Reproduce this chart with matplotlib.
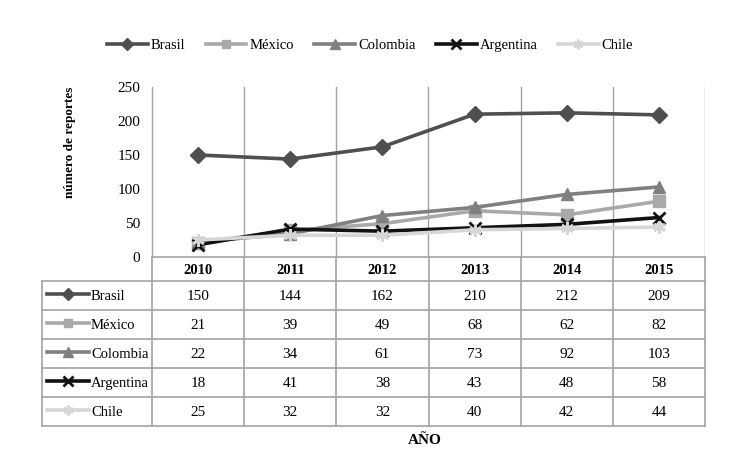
import matplotlib.pyplot as plt
from matplotlib.lines import Line2D

plt.rcParams['font.family'] = ['Liberation Serif', 'DejaVu Serif']

# datos
anios = ['2010', '2011', '2012', '2013', '2014', '2015']
paises = ['Brasil', 'México', 'Colombia', 'Argentina', 'Chile']
brasil = [150, 144, 162, 210, 212, 209]
mexico = [21, 39, 49, 68, 62, 82]
colombia = [22, 34, 61, 73, 92, 103]
argentina = [18, 41, 38, 43, 48, 58]
chile = [25, 32, 32, 40, 42, 44]
series = [brasil, mexico, colombia, argentina, chile]
yticks = [0, 50, 100, 150, 200, 250]

# estilos
colores = ['#4f4f4f', '#a9a9a9', '#808080', '#111111', '#d6d6d6']
marcadores = ['D', 's', '^', 'x', (6, 2, 0)]
msizes = [8, 8, 9, 9, 9]
lw = 2.6
gris_tabla = '#a3a3a3'

W, H = 733, 466
fig = plt.figure(figsize=(W / 100, H / 100), dpi=100)

x0, x1 = 152, 705      # borde del area del grafico (px)
ytop, ybot = 87, 257
ax = fig.add_axes([x0 / W, 1 - ybot / H, (x1 - x0) / W, (ybot - ytop) / H])

xs = list(range(len(anios)))
for i, s in enumerate(series):
    ax.plot(xs, s, color=colores[i], lw=lw, marker=marcadores[i],
            markersize=msizes[i], markeredgewidth=2 if i >= 3 else 1,
            markeredgecolor=colores[i], label=paises[i], zorder=3)

ax.set_xlim(-0.5, len(anios) - 0.5)
ax.set_ylim(0, 250)
ax.set_yticks(yticks)
ax.set_yticklabels([str(v) for v in yticks], fontsize=11)
ax.tick_params(axis='y', length=0, pad=8.5)
ax.set_xticks([])
for k in range(len(anios)):
    ax.axvline(k + 0.5, color=gris_tabla, lw=1, zorder=1)
for sp in ['top', 'right', 'bottom']:
    ax.spines[sp].set_visible(False)
ax.spines['left'].set_color(gris_tabla)
ax.spines['left'].set_linewidth(1)

fig.text(70 / W, 1 - 142 / H, 'número de reportes', rotation=90, ha='center', va='center',
         fontsize=9.5, fontweight='bold')

# leyenda superior
handles = [Line2D([0], [0], color=colores[i], lw=lw, marker=marcadores[i],
                  markersize=msizes[i] - 2, markeredgewidth=2 if i >= 3 else 1)
           for i in range(len(paises))]
fig.legend(handles, paises, loc='center', bbox_to_anchor=(370 / W, 1 - 45 / H), ncol=5,
           frameon=False, fontsize=10.5, handlelength=2.8, handletextpad=0.2,
           columnspacing=1.4)

# tabla de datos
tx = fig.add_axes([0, 0, 1, 1])
tx.set_xlim(0, W)
tx.set_ylim(H, 0)
tx.axis('off')

tleft = 42
hdr_top, hdr_bot = 257, 281
row_h = 29
n = len(paises)
filas = [hdr_bot + r * row_h for r in range(n + 1)]
colw = (x1 - x0) / len(anios)

# lineas de la tabla
tx.plot([x0, x1], [hdr_top, hdr_top], color=gris_tabla, lw=1.2)
for yv in filas:
    tx.plot([tleft, x1], [yv, yv], color=gris_tabla, lw=1.2)
for k in range(len(anios) + 1):
    tx.plot([x0 + k * colw] * 2, [hdr_top, filas[-1]], color=gris_tabla, lw=1.2)
tx.plot([tleft, tleft], [hdr_bot, filas[-1]], color=gris_tabla, lw=1.2)

for k, a in enumerate(anios):
    tx.text(x0 + (k + 0.5) * colw, (hdr_top + hdr_bot) / 2 + 1, a, ha='center', va='center',
            fontsize=10.5, fontweight='bold')

for r, s in enumerate(series):
    yc = filas[r] + row_h / 2
    tx.plot([47, 89], [yc - 2, yc - 2], color=colores[r], lw=lw)
    tx.plot([68], [yc - 2], color=colores[r], marker=marcadores[r], markersize=msizes[r] - 2,
            markeredgewidth=2 if r >= 3 else 1, linestyle='none')
    tx.text(91, yc + 1, paises[r], ha='left', va='center', fontsize=10.5)
    for k, v in enumerate(s):
        tx.text(x0 + (k + 0.5) * colw, yc + 1, str(v), ha='center', va='center', fontsize=11)

fig.text(425 / W, 1 - 440 / H, 'AÑO', ha='center', va='center', fontsize=11, fontweight='bold')

fig.savefig('out.png', dpi=100)
